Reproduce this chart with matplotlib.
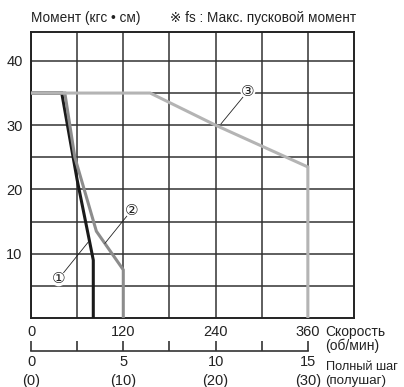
import matplotlib
matplotlib.use('Agg')
import matplotlib.pyplot as plt
import numpy as np

plt.rcParams['font.family'] = ['Liberation Sans Narrow', 'Liberation Sans', 'DejaVu Sans', 'Noto Sans CJK JP']
num_font = ['Liberation Sans', 'DejaVu Sans']

# chart values
speed_ticks = [0, 120, 240, 360]
speed_grid = [60, 180, 300]
torque_ticks = [10, 20, 30, 40]
torque_grid = [5, 15, 25, 35]
full_steps = [0, 5, 10, 15]
half_steps = [0, 10, 20, 30]
step_minor = [2.5, 7.5, 12.5]

curve1_x = [0, 40, 60, 76, 81, 81]
curve1_y = [35, 35, 21.5, 12, 9, 0]
curve2_x = [0, 44, 57, 85, 120, 120]
curve2_y = [35, 35, 25, 13.5, 7.5, 0]
curve3_x = [0, 155, 240, 360, 360]
curve3_y = [35, 35, 30, 23.5, 0]

labels = ['①', '②', '③']
label_xy = [(75, 11.9), (96, 11.6), (247, 30.2)]
label_text_xy = [(36, 6.1), (131, 16.8), (282, 35.3)]

txt = '#222222'
W, H = 404, 387
fig = plt.figure(figsize=(W / 100, H / 100), dpi=100)
ax = fig.add_axes([31 / W, 1 - 318 / H, 323 / W, 286 / H])

ax.plot(curve1_x, curve1_y, color='#1a1a1a', lw=2.2, zorder=3, solid_joinstyle='miter')
ax.plot(curve2_x, curve2_y, color='#8c8c8c', lw=2.2, zorder=4, solid_joinstyle='miter')
ax.plot(curve3_x, curve3_y, color='#b4b4b4', lw=2.2, zorder=5, solid_joinstyle='miter')

ax.set_xlim(0, 420)
ax.set_ylim(0, 44.5)
ax.set_xticks(speed_ticks)
ax.set_xticks(speed_grid, minor=True)
ax.set_yticks(torque_ticks)
ax.set_yticks(torque_grid, minor=True)
ax.grid(which='both', color='#333333', lw=1.1)
ax.set_axisbelow(True)
ax.tick_params(which='both', length=0, labelsize=10.5, labelcolor=txt)
ax.tick_params(axis='x', pad=5)
ax.tick_params(axis='y', pad=6)
for t in ax.get_xticklabels() + ax.get_yticklabels():
    t.set_family(num_font)
for s in ax.spines.values():
    s.set_color('#222222')
    s.set_linewidth(1.4)

for lab, xy, xyt in zip(labels, label_xy, label_text_xy):
    ax.annotate(lab, xy=xy, xytext=xyt, ha='center', va='center',
                fontsize=11, color=txt, zorder=6,
                family=['DejaVu Sans', 'Noto Sans CJK JP'],
                bbox=dict(boxstyle='circle,pad=0.0', fc='white', ec='none'),
                arrowprops=dict(arrowstyle='-', lw=0.6, color='#222222',
                                shrinkA=0, shrinkB=0))

fig.text(31 / W, 1 - 18 / H, 'Момент (кгс • см)', fontsize=9.8, color=txt,
         ha='left', va='center')
fig.text(356 / W, 1 - 18 / H, '※ fs : Макс. пусковой момент', fontsize=9.8,
         color=txt, ha='right', va='center')
fig.text(325 / W, 1 - 332 / H, 'Скорость', fontsize=10, color=txt,
         ha='left', va='center')
fig.text(325 / W, 1 - 346 / H, '(об/мин)', fontsize=10, color=txt,
         ha='left', va='center')
fig.text(326 / W, 1 - 367 / H, 'Полный шаг', fontsize=9.2, color=txt,
         ha='left', va='center')
fig.text(325 / W, 1 - 381 / H, '(полушаг)', fontsize=9.6, color=txt,
         ha='left', va='center')

# step axis
ax2 = fig.add_axes([31 / W, 1 - 351 / H, 323 / W, 0.001])
ax2.set_xlim(0, 420 / 24)
ax2.set_ylim(0, 1)
ax2.patch.set_visible(False)
for k in ['top', 'left', 'right']:
    ax2.spines[k].set_visible(False)
ax2.spines['bottom'].set_bounds(0, 15)
ax2.spines['bottom'].set_color('#333333')
ax2.spines['bottom'].set_linewidth(1.2)
ax2.set_yticks([])
ax2.set_xticks(full_steps)
ax2.set_xticklabels([f'{a}\n({b})' for a, b in zip(full_steps, half_steps)])
ax2.set_xticks(step_minor, minor=True)
ax2.tick_params(which='both', direction='in', length=7, width=1.2, color='#333333',
                labelsize=10.5, labelcolor=txt, pad=3)
for t in ax2.get_xticklabels():
    t.set_linespacing(1.4)
    t.set_family(num_font)

fig.savefig('out.png', dpi=100)
